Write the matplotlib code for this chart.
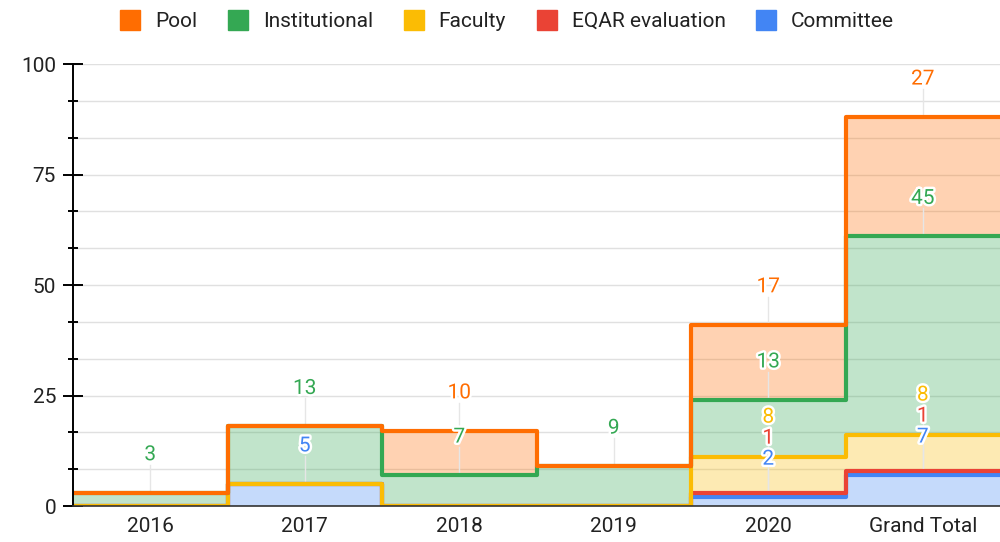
import numpy as np
import matplotlib
matplotlib.use("Agg")
import matplotlib.pyplot as plt
import matplotlib.patheffects as pe
from matplotlib.lines import Line2D

plt.rcParams['font.family'] = ['Roboto', 'DejaVu Sans']

categories = ["2016", "2017", "2018", "2019", "2020", "Grand Total"]
# stacked from bottom to top
committee = [0, 5, 0, 0, 2, 7]
eqar = [0, 0, 0, 0, 1, 1]
faculty = [0, 0, 0, 0, 8, 8]
institutional = [3, 13, 7, 9, 13, 45]
pool = [0, 0, 10, 0, 17, 27]

series_names = ["Committee", "EQAR evaluation", "Faculty", "Institutional", "Pool"]
series_values = [committee, eqar, faculty, institutional, pool]
series_colors = ["#4285f4", "#ea4335", "#fbbc04", "#34a853", "#ff6d01"]

fig = plt.figure(figsize=(10, 5.42), dpi=100)
ax = fig.add_axes([0.073, 0.0664, 0.927, 0.8155])

n = len(categories)
edges = np.arange(n + 1) - 0.5
lower = np.zeros(n)
tops = []
for name, vals, col in zip(series_names, series_values, series_colors):
    upper = lower + np.array(vals, dtype=float)
    ax.stairs(upper, edges, baseline=lower, fill=True, color=col, alpha=0.3,
              linewidth=0, zorder=1)
    tops.append(upper.copy())
    lower = upper

# outlines, top series drawn last
for top, col in zip(tops, series_colors):
    ax.stairs(top, edges, baseline=None, fill=False, color=col, linewidth=3,
              joinstyle='round', capstyle='butt', zorder=2)

ax.set_xlim(-0.5, n - 0.5)
ax.set_ylim(0, 100)

# y axis
ax.set_yticks([0, 25, 50, 75, 100])
ax.set_yticks(np.arange(0, 100.01, 25 / 3), minor=True)
ax.tick_params(axis='y', which='major', direction='inout', length=14.4, width=1.4,
               color='black', labelsize=15, labelcolor='#222222', pad=5)
ax.tick_params(axis='y', which='minor', direction='inout', length=6.5, width=1.4,
               color='black')
ax.set_xticks(np.arange(n))
ax.set_xticklabels(categories)
ax.tick_params(axis='x', length=0, labelsize=15, labelcolor='#222222', pad=8)
ax.grid(True, which='both', axis='y', color='#e0e0e0', linewidth=1)
ax.set_axisbelow(True)
for s in ['top', 'right']:
    ax.spines[s].set_visible(False)
ax.spines['left'].set_color('black')
ax.spines['left'].set_linewidth(1.4)
ax.spines['bottom'].set_color('#333333')
ax.spines['bottom'].set_linewidth(1.2)

# value labels with simple collision avoidance (pixels)
offset_px = 38
gap_px = 21
halo = [pe.withStroke(linewidth=3.5, foreground='white')]
for i in range(n):
    prev = None
    for k, (vals, col) in enumerate(zip(series_values, series_colors)):
        v = vals[i]
        if v == 0:
            continue
        top = tops[k][i]
        py = ax.transData.transform((i, top))[1]
        ly = py + offset_px
        if prev is not None and ly < prev + gap_px:
            ly = prev + gap_px
        prev = ly
        off = ly - py
        stem_end = ax.transData.inverted().transform((0, ly - 10))[1]
        ax.plot([i, i], [top, stem_end], color='#e6e6e6', linewidth=1, zorder=1.5)
        ax.annotate(str(v), xy=(i, top), xytext=(0, off), textcoords='offset pixels',
                    ha='center', va='center', fontsize=15, color=col,
                    path_effects=halo, zorder=4)

# legend
legend_order = ["Pool", "Institutional", "Faculty", "EQAR evaluation", "Committee"]
handles = []
for name in legend_order:
    col = series_colors[series_names.index(name)]
    handles.append(Line2D([], [], marker='s', linestyle='none', markersize=15,
                          markerfacecolor=col, markeredgecolor=col, label=name))
fig.legend(handles=handles, loc='center', bbox_to_anchor=(0.507, 0.96), ncol=5,
           frameon=False, fontsize=15, handlelength=1.0, handletextpad=0.7,
           columnspacing=1.45, labelcolor='#222222')

fig.savefig("out.png", dpi=100)
